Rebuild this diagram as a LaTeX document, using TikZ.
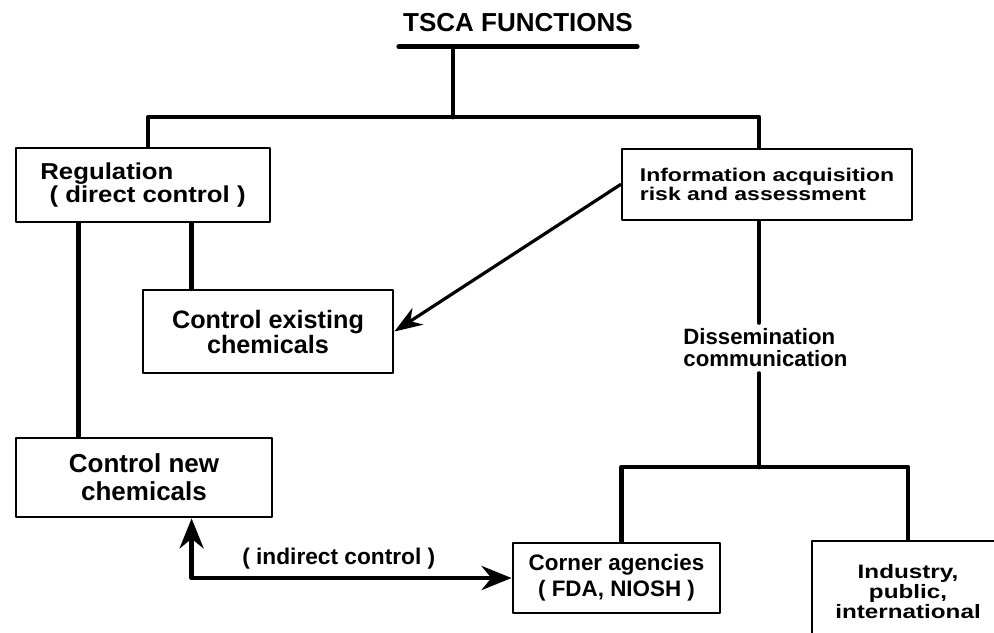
\documentclass[tikz,border=0pt]{standalone}
\usepackage{fontspec}
\setmainfont{Liberation Sans}
\newfontfamily\widefont[FakeStretch=1.25]{Liberation Sans}
\newfontfamily\midfont[FakeStretch=1.12]{Liberation Sans}
\usetikzlibrary{arrows.meta}

\begin{document}
\begin{tikzpicture}[line cap=round,line join=round,x=0.5pt,y=-0.5pt,
  >={Stealth[length=14pt,width=10pt]},
  box/.style={draw,line width=1.4pt,inner sep=0pt,align=center},
  conn/.style={line width=2.4pt},
  arr/.style={->,line width=1.6pt}]
\clip(0,0) rectangle (994,632);
\fill[white] (0,0) rectangle (994,632);
\node[anchor=base,inner xsep=2pt,inner ysep=7.5pt,font=\bfseries\fontsize{13}{14}\selectfont] (title) at (518,31) {TSCA FUNCTIONS};
\node[box,minimum width=127pt,minimum height=37pt,align=left,font=\midfont\bfseries\fontsize{11.5}{11.5}\selectfont] (reg) at (143,185) {Regulation\\\hspace*{0.4em}( direct control )};
\node[box,minimum width=145pt,minimum height=35.5pt,align=left,font=\widefont\bfseries\fontsize{9.2}{9.2}\selectfont] (info) at (767,184.5) {Information acquisition\\risk and assessment};
\node[box,minimum width=125pt,minimum height=41.5pt,font=\bfseries\fontsize{12.6}{12.5}\selectfont] (cex) at (268,331.5) {Control existing\\chemicals};
\node[box,minimum width=128pt,minimum height=39.5pt,font=\bfseries\fontsize{13}{14}\selectfont] (cnew) at (144,477.5) {Control new\\chemicals};
\node[box,minimum width=103.5pt,minimum height=35pt,font=\bfseries\fontsize{11.2}{13}\selectfont] (corner) at (616.5,578) {Corner agencies\\( FDA, NIOSH )};
\node[box,minimum width=96pt,minimum height=51pt,font=\widefont\bfseries\fontsize{9.7}{10}\selectfont] (industry) at (908,592) {Industry,\\public,\\international};
\node[anchor=west,inner xsep=0pt,inner ysep=3pt,align=left,font=\bfseries\fontsize{11.1}{11}\selectfont] (dissem) at (683,348) {Dissemination\\communication};
\coordinate (split) at (453,117);
\coordinate (fork) at (759,467);
% title and top branch
\draw[conn] (title.south west) -- (title.south east);
\draw[conn] (title.south -| split) -- (split);
\draw[conn] ([xshift=2.5pt]reg.north) |- (split) -| ([xshift=-4pt]info.north);
% regulation side
\draw[conn] ([xshift=25pt]cex.north west) -- ([xshift=25pt]cex.north west |- reg.south);
\draw[conn] ([xshift=32pt]cnew.north west) -- ([xshift=32pt]cnew.north west |- reg.south);
\draw[arr] (info.west) -- (cex.east);
% information side
\draw[conn] ([xshift=-4pt]info.south) -- (dissem.north -| fork);
\draw[conn] (dissem.south -| fork) -- (fork);
\draw[conn] ([xshift=2.5pt]corner.north) |- (fork) -| (industry.north);
\draw[<->,line width=2.4pt,>={Stealth[length=15pt,width=12pt]}] ([xshift=88.5pt]cnew.south west) |- node[pos=0.73,above=0pt,font=\bfseries\fontsize{11.35}{13}\selectfont] (indirect) {( indirect control )} (corner.west);
\end{tikzpicture}
\end{document}
